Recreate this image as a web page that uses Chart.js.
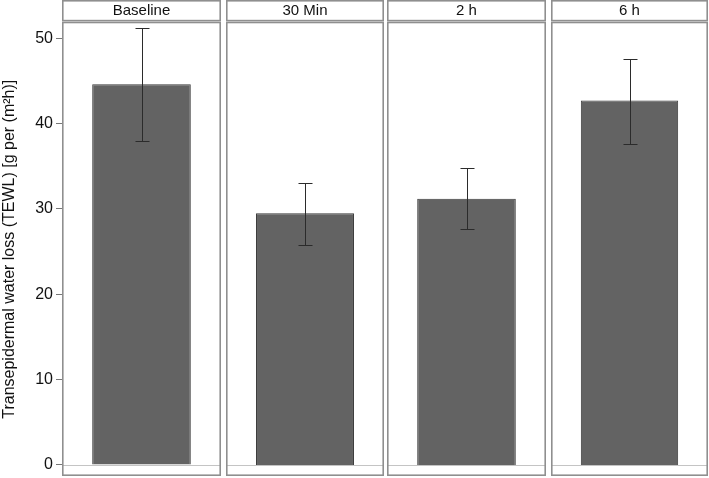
<!DOCTYPE html>
<html>
<head>
<meta charset="utf-8">
<script src="https://cdn.jsdelivr.net/npm/chart.js"></script>
<style>
  html, body { margin: 0; padding: 0; background: #fff; }
  #wrap { position: relative; width: 709px; height: 478px; }
  #wrap canvas { position: absolute; top: 0; }
</style>
</head>
<body>
<div id="wrap">
  <canvas id="p0"></canvas>
  <canvas id="p1"></canvas>
  <canvas id="p2"></canvas>
  <canvas id="p3"></canvas>
</div>
<script>
// dados
const categories = ['Baseline', '30 Min', '2 h', '6 h'];
const meanValues = [44.6, 29.5, 31.2, 42.7];
const errLow = [38.0, 25.8, 27.6, 37.6];
const errHigh = [51.2, 33.1, 34.8, 47.6];
const yTicks = [0, 10, 20, 30, 40, 50];
const yTitle = 'Transepidermal water loss (TEWL) [g per (m\u00B2h)]';

const FONT = '"Liberation Sans", Arial, sans-serif';
const frameColor = '#8f8f8f';

// posição dos painéis (esquerda do canvas, largura)
const panels = [
    { left: 0, width: 222 },
    { left: 225, width: 160 },
    { left: 386, width: 161 },
    { left: 550, width: 159 }
];

// desenha a faixa do título, a moldura, a linha do zero e as barras de erro
const facetPlugin = {
    id: 'facet',
    beforeDatasetsDraw(chart) {
        const { ctx, chartArea: a } = chart;
        const y = chart.scales.y;
        ctx.save();
        // linha do zero
        ctx.strokeStyle = '#c4c4c4';
        ctx.lineWidth = 1;
        const y0 = Math.round(y.getPixelForValue(0)) + 0.5;
        ctx.beginPath();
        ctx.moveTo(a.left, y0);
        ctx.lineTo(a.right, y0);
        ctx.stroke();
        ctx.restore();
    },
    afterDatasetsDraw(chart, args, opts) {
        const { ctx, chartArea: a } = chart;
        const y = chart.scales.y;
        const i = opts.index;
        ctx.save();
        // barra de erro
        const bar = chart.getDatasetMeta(0).data[0];
        const x = Math.round(bar.x) + 0.5;
        const yh = Math.round(y.getPixelForValue(errHigh[i])) + 0.5;
        const yl = Math.round(y.getPixelForValue(errLow[i])) + 0.5;
        ctx.strokeStyle = '#2b2b2b';
        ctx.lineWidth = 1;
        ctx.beginPath();
        ctx.moveTo(x, yh); ctx.lineTo(x, yl);
        ctx.moveTo(x - 7, yh); ctx.lineTo(x + 7, yh);
        ctx.moveTo(x - 7, yl); ctx.lineTo(x + 7, yl);
        ctx.stroke();

        // moldura do painel
        ctx.strokeStyle = frameColor;
        ctx.lineWidth = 1.6;
        ctx.strokeRect(a.left + 0.8, a.top, a.right - a.left - 1.6, a.bottom - a.top - 0.8);

        // faixa do título
        ctx.fillStyle = '#fff';
        ctx.fillRect(a.left, 0, a.right - a.left, 21);
        ctx.strokeRect(a.left + 0.8, 0.8, a.right - a.left - 1.6, 19.8);
        ctx.fillStyle = '#111';
        ctx.font = '15px ' + FONT;
        ctx.textAlign = 'center';
        ctx.textBaseline = 'middle';
        ctx.fillText(categories[i], (a.left + a.right) / 2, 11);
        ctx.restore();
    }
};

function makePanel(i) {
    const canvas = document.getElementById('p' + i);
    canvas.width = panels[i].width;
    canvas.height = 478;
    canvas.style.left = panels[i].left + 'px';
    canvas.style.width = panels[i].width + 'px';
    canvas.style.height = '478px';
    const first = i === 0;

    return new Chart(canvas.getContext('2d'), {
        type: 'bar',
        data: {
            labels: [categories[i]],
            datasets: [{
                data: [meanValues[i]],
                backgroundColor: '#636363',
                borderColor: '#3a3a3a',
                borderWidth: 1,
                barPercentage: 0.62,
                categoryPercentage: 1
            }]
        },
        plugins: [facetPlugin],
        options: {
            responsive: false,
            animation: false,
            devicePixelRatio: 1,
            layout: { padding: { left: first ? 0 : 1, right: 1, top: 22.5, bottom: 2 } },
            plugins: {
                legend: { display: false },
                tooltip: { enabled: false },
                facet: { index: i }
            },
            scales: {
                x: { display: false, offset: true },
                y: {
                    display: first,
                    min: -1.29,
                    max: 51.85,
                    afterBuildTicks: (scale) => {
                        scale.ticks = yTicks.map(v => ({ value: v }));
                    },
                    afterFit: (scale) => {
                        // sem folga extra para os rótulos das pontas
                        scale.paddingTop = 0;
                        scale.paddingBottom = 0;
                        if (first) scale.width = 62;
                    },
                    border: { display: false },
                    grid: {
                        drawOnChartArea: false,
                        tickLength: 6,
                        tickColor: '#777'
                    },
                    ticks: {
                        color: '#111',
                        padding: 3,
                        font: { family: FONT, size: 16 }
                    },
                    title: {
                        display: true,
                        text: yTitle,
                        color: '#111',
                        padding: { top: 0, bottom: 3 },
                        font: { family: FONT, size: 16 }
                    }
                }
            }
        }
    });
}

categories.forEach((c, i) => makePanel(i));
</script>
</body>
</html>
